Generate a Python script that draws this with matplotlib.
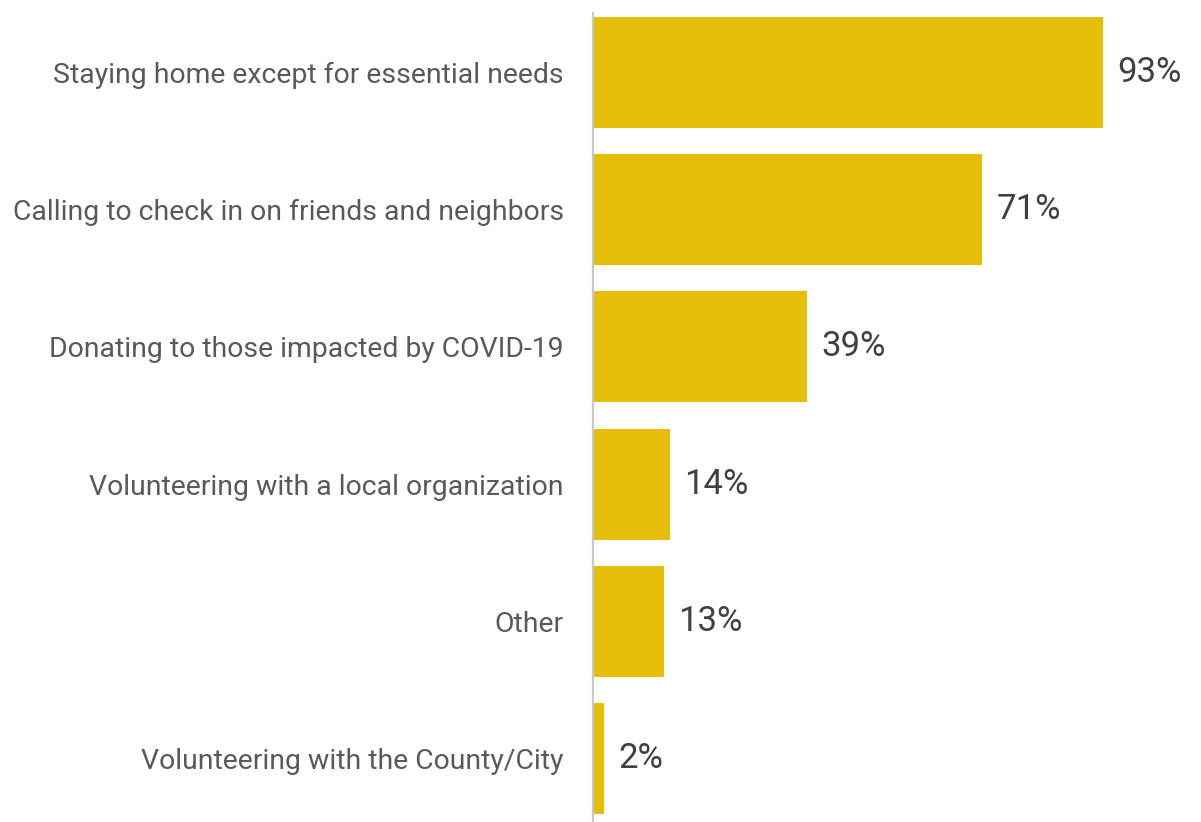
import matplotlib
matplotlib.use("Agg")
import matplotlib.pyplot as plt

categories = [
    "Staying home except for essential needs",
    "Calling to check in on friends and neighbors",
    "Donating to those impacted by COVID-19",
    "Volunteering with a local organization",
    "Other",
    "Volunteering with the County/City",
]
values = [93, 71, 39, 14, 13, 2]
value_labels = ["93%", "71%", "39%", "14%", "13%", "2%"]

BAR = "#E6BE0A"
plt.rcParams["font.family"] = ["Roboto", "DejaVu Sans"]

fig = plt.figure(figsize=(12.01, 8.22), dpi=100)
ax = fig.add_axes([593 / 1201, 0.0, 608 / 1201, 1 - 13 / 822])

y = list(range(len(categories)))
ax.barh(y, values, height=0.81, color=BAR)
ax.set_xlim(0, 608 / 5.484)
top_px, bottom_px = 13, 822
pitch = 137.2
ax.set_ylim((bottom_px - 72.5) / pitch, (top_px - 72.5) / pitch)

for yi, v, lab in zip(y, values, value_labels):
    ax.text(v + 14 / 5.484, yi, lab, va="center", ha="left",
            fontsize=25, color="#404040")

ax.set_yticks(y)
ax.set_yticklabels(categories, fontsize=20.4, color="#595959")
ax.tick_params(axis="y", length=0, pad=21)
ax.set_xticks([])
for s in ["top", "right", "bottom"]:
    ax.spines[s].set_visible(False)
ax.spines["left"].set_color("#c8c8c8")
ax.spines["left"].set_linewidth(1.5)

fig.savefig("out.png", dpi=100)
